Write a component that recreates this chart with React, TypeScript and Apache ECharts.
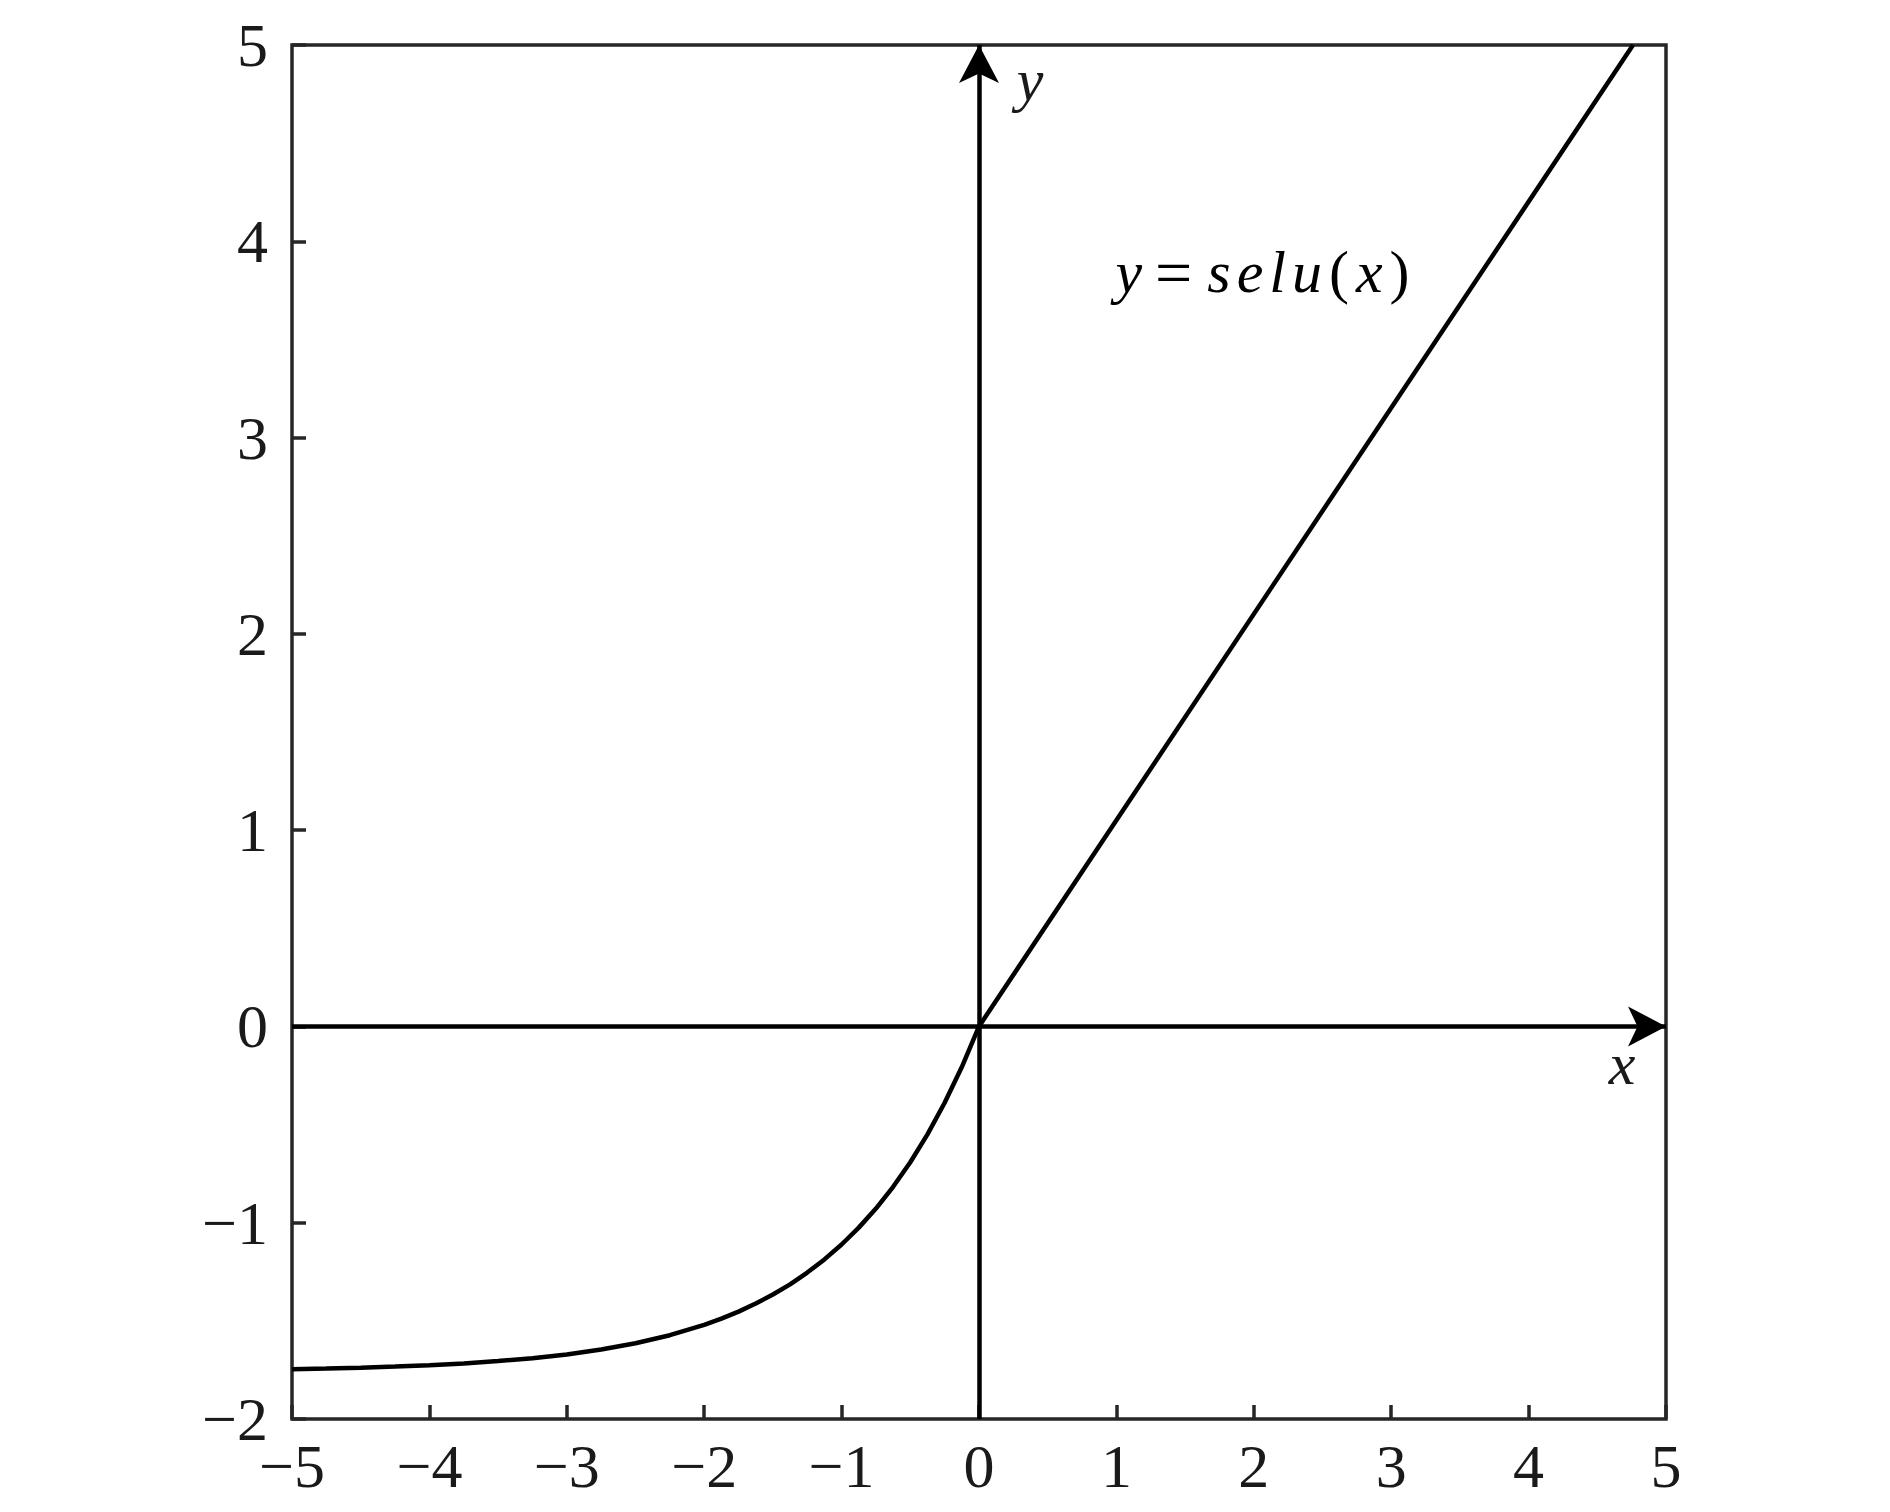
import React, { useEffect, useRef } from "react";
import * as echarts from "echarts";

// Curve samples (x, y)
const xValues = [
  -5, -4.75, -4.5, -4.25, -4, -3.75, -3.5, -3.25, -3, -2.75, -2.5, -2.25, -2,
  -1.875, -1.75, -1.625, -1.5, -1.375, -1.25, -1.125, -1, -0.875, -0.75,
  -0.625, -0.5, -0.375, -0.25, -0.125, 0, 4.76,
];
const yValues = [
  -1.746, -1.743, -1.739, -1.733, -1.726, -1.717, -1.705, -1.69, -1.671,
  -1.646, -1.614, -1.573, -1.52, -1.489, -1.453, -1.412, -1.366, -1.314,
  -1.254, -1.187, -1.111, -1.025, -0.928, -0.817, -0.692, -0.55, -0.389,
  -0.207, 0, 5.0,
];

const xTicks = [-5, -4, -3, -2, -1, 0, 1, 2, 3, 4, 5];
const yTicks = [-2, -1, 0, 1, 2, 3, 4, 5];
const xRange = [-5, 5];
const yRange = [-2, 5];

const fmt = (v: number) => (v < 0 ? "\u2212" + Math.abs(v) : String(v));

const SERIF = "'Liberation Serif', 'DejaVu Serif', serif";

export default function App() {
  const ref = useRef<HTMLDivElement>(null);
  useEffect(() => {
    if (!ref.current) return;
    const chart = echarts.init(ref.current, undefined, { renderer: "svg" });
    const data = xValues.map((x, i) => [x, yValues[i]]);
    const frame = "#262626";
    const italic = {
      fontFamily: SERIF,
      fontStyle: "italic",
      fontSize: 60,
      color: "#1a1a1a",
      padding: [0, 3, 0, 3],
    };
    const upright = {
      fontFamily: SERIF,
      fontSize: 60,
      color: "#1a1a1a",
      padding: [0, 4, 0, 4],
    };
    chart.setOption({
      animation: false,
      backgroundColor: "#ffffff",
      grid: {
        left: 292,
        top: 45,
        width: 1374,
        height: 1374,
        show: true,
        borderColor: frame,
        borderWidth: 3.5,
        backgroundColor: "transparent",
      },
      xAxis: {
        type: "value",
        min: xRange[0],
        max: xRange[1],
        interval: 1,
        axisLine: { show: false, onZero: false },
        axisTick: {
          show: true,
          inside: true,
          length: 14,
          lineStyle: { color: frame, width: 3.5 },
        },
        splitLine: { show: false },
        axisLabel: {
          margin: 16,
          fontFamily: SERIF,
          fontSize: 62,
          color: "#1a1a1a",
          formatter: (v: number) => (xTicks.includes(v) ? fmt(v) : ""),
        },
      },
      yAxis: {
        type: "value",
        min: yRange[0],
        max: yRange[1],
        interval: 1,
        axisLine: { show: false, onZero: false },
        axisTick: {
          show: true,
          inside: true,
          length: 14,
          lineStyle: { color: frame, width: 3.5 },
        },
        splitLine: { show: false },
        axisLabel: {
          margin: 24,
          fontFamily: SERIF,
          fontSize: 62,
          color: "#1a1a1a",
          formatter: (v: number) => (yTicks.includes(v) ? fmt(v) : ""),
        },
      },
      series: [
        {
          type: "line",
          data,
          showSymbol: false,
          symbol: "none",
          smooth: false,
          clip: true,
          lineStyle: { color: "#000000", width: 4.5 },
          z: 3,
          markLine: {
            silent: true,
            symbol: ["none", "arrow"],
            symbolSize: [30, 38],
            label: { show: false },
            lineStyle: { color: "#000000", width: 4.5, type: "solid" },
            emphasis: { disabled: true },
            data: [
              [{ coord: [xRange[0], 0] }, { coord: [xRange[1], 0] }],
              [{ coord: [0, yRange[0]] }, { coord: [0, yRange[1]] }],
            ],
          },
        },
      ],
      graphic: [
        {
          type: "text",
          x: 1030,
          y: 80,
          style: {
            text: "y",
            fontFamily: SERIF,
            fontStyle: "italic",
            fontSize: 60,
            fill: "#1a1a1a",
            align: "center",
            verticalAlign: "middle",
          },
        },
        {
          type: "text",
          x: 1622,
          y: 1064,
          style: {
            text: "x",
            fontFamily: SERIF,
            fontStyle: "italic",
            fontSize: 60,
            fill: "#1a1a1a",
            align: "center",
            verticalAlign: "middle",
          },
        },
        {
          type: "text",
          x: 1263,
          y: 272,
          style: {
            text: "{i|y}{e|=}{i|s}{i|e}{i|l}{i|u}{u|(}{i|x}{u|)}",
            align: "center",
            verticalAlign: "middle",
            rich: {
              i: italic,
              u: upright,
              e: { ...upright, fontSize: 66, padding: [0, 12, 0, 10] },
            },
          },
        },
      ],
    });
    return () => chart.dispose();
  }, []);
  return (
    <div
      ref={ref}
      style={{ position: "absolute", left: 0, top: 0, width: 1890, height: 1512 }}
    />
  );
}
